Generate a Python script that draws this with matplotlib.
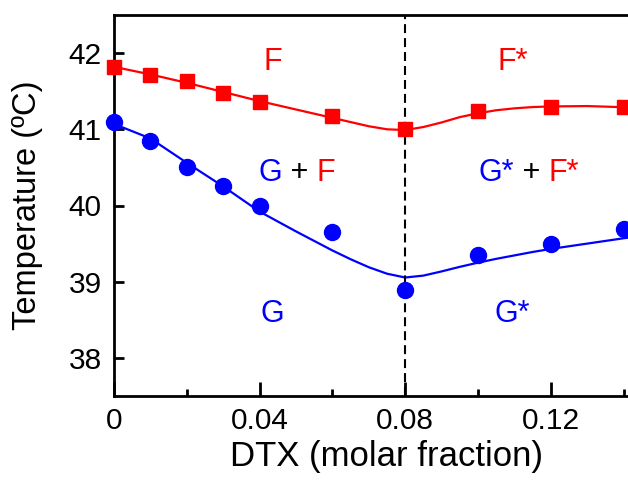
import matplotlib
matplotlib.use("Agg")
import matplotlib.pyplot as plt

plt.rcParams['font.family'] = ['Liberation Sans', 'DejaVu Sans']

# Measured points
x_pts = [0.0, 0.01, 0.02, 0.03, 0.04, 0.06, 0.08, 0.10, 0.12, 0.14]
f_temp = [41.82, 41.71, 41.63, 41.48, 41.36, 41.17, 41.00, 41.24, 41.29, 41.29]
g_temp = [41.10, 40.85, 40.51, 40.26, 40.00, 39.65, 38.89, 39.35, 39.50, 39.69]

# Fitted guide curves
x_fit = [0.0, 0.01, 0.02, 0.03, 0.04, 0.05, 0.06, 0.065, 0.07, 0.075, 0.08,
         0.085, 0.09, 0.095, 0.10, 0.105, 0.11, 0.115, 0.12, 0.13, 0.14, 0.15]
f_fit = [41.82, 41.72, 41.61, 41.49, 41.37, 41.26, 41.15, 41.095, 41.04, 41.00, 40.99,
         41.03, 41.09, 41.16, 41.21, 41.25, 41.275, 41.292, 41.30, 41.305, 41.29, 41.27]
g_fit = [41.07, 40.88, 40.56, 40.25, 39.92, 39.66, 39.41, 39.295, 39.19, 39.105, 39.055,
         39.08, 39.135, 39.195, 39.25, 39.30, 39.345, 39.39, 39.43, 39.50, 39.57, 39.63]

boundary_x = 0.08

x_ticks = [0, 0.04, 0.08, 0.12]
x_tick_labels = ['0', '0.04', '0.08', '0.12']
x_minor = [0.02, 0.06, 0.10, 0.14]
y_ticks = [38, 39, 40, 41, 42]

RED = '#ff0000'
BLUE = '#0000ff'

fig = plt.figure(figsize=(6.28, 4.8), dpi=100)
ax = fig.add_axes([114/628, 84/480, 546/628, 381/480])

ax.plot(x_fit, f_fit, color=RED, lw=1.6, zorder=2)
ax.plot(x_fit, g_fit, color=BLUE, lw=1.6, zorder=2)
ax.plot(x_pts, f_temp, 's', color=RED, ms=10.5, clip_on=False, zorder=4)
ax.plot(x_pts, g_temp, 'o', color=BLUE, ms=11.5, clip_on=False, zorder=4)
ax.axvline(boundary_x, color='black', lw=1.5, ls=(0, (4.3, 2.4)), zorder=3)

ax.set_xlim(0, 0.15)
ax.set_ylim(37.5, 42.5)

ax.set_xticks(x_ticks)
ax.set_xticklabels(x_tick_labels)
ax.set_xticks(x_minor, minor=True)
ax.set_yticks(y_ticks)

ax.tick_params(axis='both', which='major', direction='in', labelsize=21.5,
               width=2, colors='black')
ax.tick_params(axis='x', which='major', length=10, pad=8)
ax.tick_params(axis='y', which='major', length=7, pad=9)
ax.tick_params(axis='x', which='minor', direction='in', length=5, width=2)

for s in ['left', 'bottom', 'top']:
    ax.spines[s].set_linewidth(2)
ax.spines['right'].set_visible(False)

ax.set_xlabel('DTX (molar fraction)', fontsize=25)
ax.set_ylabel('Temperature (ºC)', fontsize=23.5)
ax.xaxis.set_label_coords(0.5, -0.115)
ax.yaxis.set_label_coords(-0.130, 0.5)

fs = 22
ax.text(0.0435, 41.88, 'F', color=RED, fontsize=fs, ha='center', va='center')
ax.text(0.1095, 41.88, 'F*', color=RED, fontsize=fs, ha='center', va='center')
ax.text(0.0435, 38.57, 'G', color=BLUE, fontsize=fs, ha='center', va='center')
ax.text(0.1095, 38.57, 'G*', color=BLUE, fontsize=fs, ha='center', va='center')


def colored_line(x, y, pieces):
    """Place consecutive coloured text pieces centred on (x, y)."""
    fig.canvas.draw()
    renderer = fig.canvas.get_renderer()
    widths = []
    for s, c in pieces:
        t = ax.text(0, 0, s, fontsize=fs)
        widths.append(t.get_window_extent(renderer=renderer).width)
        t.remove()
    total = sum(widths)
    xd, yd = ax.transData.transform((x, y))
    cur = xd - total / 2
    inv = ax.transData.inverted()
    for (s, c), w in zip(pieces, widths):
        px, py = inv.transform((cur, yd))
        ax.text(px, py, s, color=c, fontsize=fs, ha='left', va='center')
        cur += w


colored_line(0.0502, 40.43, [('G', BLUE), (' + ', 'black'), ('F', RED)])
colored_line(0.114, 40.43, [('G*', BLUE), (' + ', 'black'), ('F*', RED)])

fig.savefig('out.png', dpi=100)
